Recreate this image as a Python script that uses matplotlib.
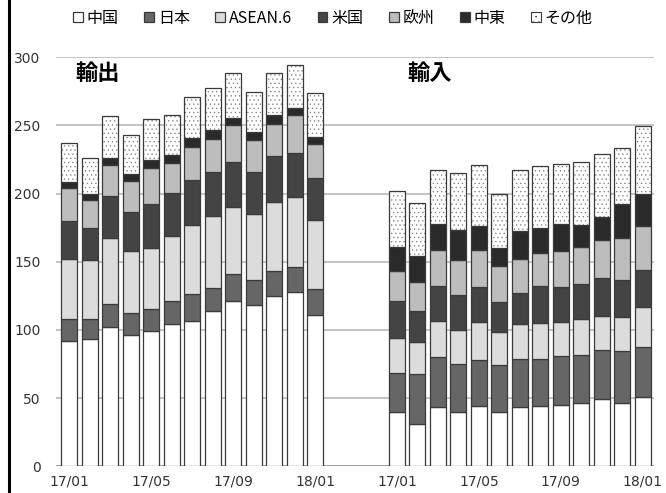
import numpy as np
import matplotlib
matplotlib.use('Agg')
import matplotlib.pyplot as plt
from matplotlib.lines import Line2D
from matplotlib.patches import Patch

plt.rcParams['font.family'] = ['Noto Sans CJK JP', 'DejaVu Sans']
plt.rcParams['hatch.linewidth'] = 0.4

regions = ['中国', '日本', 'ASEAN.6', '米国', '欧州', '中東', 'その他']
months = ['17/01', '17/02', '17/03', '17/04', '17/05', '17/06', '17/07',
          '17/08', '17/09', '17/10', '17/11', '17/12', '18/01']

# 輸出 (地域別, 月次)
exports = {
    '中国':    [92.0, 93.3, 102.0, 96.0, 99.4, 104.3, 106.7, 113.6, 120.9, 118.5, 124.8, 128.0, 110.9],
    '日本':    [16.0, 14.4, 17.4, 16.6, 15.9, 16.9, 19.6, 17.3, 20.3, 18.1, 18.4, 18.3, 19.3],
    'ASEAN.6': [43.7, 43.5, 48.4, 45.0, 45.0, 47.4, 50.6, 52.6, 49.1, 48.4, 50.8, 50.9, 50.1],
    '米国':    [28.3, 23.5, 30.1, 28.8, 32.2, 31.5, 32.7, 32.3, 33.0, 30.8, 33.5, 32.8, 31.3],
    '欧州':    [23.8, 20.5, 23.0, 22.5, 26.0, 22.5, 24.4, 24.4, 27.2, 23.7, 23.7, 27.3, 24.5],
    '中東':    [4.9, 4.2, 5.1, 5.4, 6.3, 5.4, 6.4, 6.4, 5.1, 5.5, 6.6, 5.7, 5.6],
    'その他':  [28.4, 26.9, 31.1, 28.3, 30.1, 29.6, 30.4, 31.0, 32.8, 29.7, 30.6, 31.5, 31.8],
}

# 輸入 (地域別, 月次)
imports = {
    '中国':    [39.7, 30.9, 43.4, 39.7, 44.6, 39.7, 43.4, 44.4, 45.3, 46.1, 49.5, 46.6, 50.8],
    '日本':    [28.9, 36.9, 36.9, 35.3, 33.5, 34.5, 35.5, 34.5, 35.7, 35.7, 35.7, 37.9, 36.9],
    'ASEAN.6': [25.2, 23.3, 26.4, 24.9, 27.4, 24.5, 25.4, 26.1, 25.2, 26.4, 25.2, 25.2, 28.8],
    '米国':    [27.6, 23.0, 25.7, 25.4, 25.7, 22.0, 22.5, 27.4, 25.0, 25.4, 27.6, 27.3, 27.4],
    '欧州':    [21.5, 21.2, 26.4, 25.9, 27.1, 25.9, 25.2, 24.4, 26.4, 27.2, 27.9, 30.8, 32.7],
    '中東':    [18.1, 19.1, 18.9, 22.3, 18.1, 13.2, 20.7, 18.2, 20.1, 16.1, 17.1, 24.7, 23.4],
    'その他':  [41.1, 38.4, 39.6, 41.5, 44.2, 40.1, 44.8, 44.9, 44.2, 46.3, 46.0, 40.9, 49.8],
}

colors = ['white', '#666666', '#dcdcdc', '#444444', '#bdbdbd', '#2a2a2a', 'white']

fig = plt.figure(figsize=(6.66, 4.93), dpi=100)
ax = fig.add_axes([0.084, 0.054, 0.898, 0.830])

x_exp = np.arange(len(months))
x_imp = np.arange(len(months)) + len(months) + 3
width = 0.78

handles = []
for xs, data in [(x_exp, exports), (x_imp, imports)]:
    bottom = np.zeros(len(months))
    for i, r in enumerate(regions):
        vals = np.array(data[r])
        if r == 'その他':
            # 点描は薄いグレーで、枠線は別に重ねる
            ax.bar(xs, vals, width, bottom=bottom, color='white',
                   edgecolor='#7a7a7a', linewidth=0, hatch='....', zorder=3)
            b = ax.bar(xs, vals, width, bottom=bottom, fill=False,
                       edgecolor='#3a3a3a', linewidth=0.9, zorder=4, label=r)
        else:
            b = ax.bar(xs, vals, width, bottom=bottom, color=colors[i],
                       edgecolor='#3a3a3a', linewidth=0.9, zorder=3, label=r)
        if xs is x_exp:
            handles.append(b)
        bottom += vals

# 凡例用の「その他」は点描付き
handles[-1] = Patch(facecolor='white', edgecolor='#3a3a3a', hatch='...',
                    linewidth=0.8)

ax.set_xlim(-0.65, x_imp[-1] + 0.55)
ax.set_ylim(0, 300)
ax.set_yticks(np.arange(0, 301, 50))
ax.grid(axis='y', color='#bfbfbf', linewidth=1.3, zorder=0)
ax.axhline(0, color='#9a9a9a', linewidth=1.2, zorder=2)
for s in ax.spines.values():
    s.set_visible(False)

tick_pos = list(x_exp[::4]) + list(x_imp[::4])
tick_lab = [months[i] for i in range(0, 13, 4)] * 2
ax.set_xticks(tick_pos)
ax.set_xticklabels(tick_lab, family='DejaVu Sans')
ax.tick_params(axis='x', length=0, pad=6, labelsize=10, labelcolor='#333333')
ax.tick_params(axis='y', length=0, pad=11, labelsize=10, labelcolor='#333333')
for t in ax.get_yticklabels():
    t.set_family('DejaVu Sans')

ax.text(1.4, 288, '輸出', fontsize=16, fontweight='bold', ha='center', va='center')
ax.text(17.6, 288, '輸入', fontsize=16, fontweight='bold', ha='center', va='center')

fig.legend(handles=handles, labels=regions, loc='center', ncol=7,
           bbox_to_anchor=(0.5, 0.963), frameon=False, fontsize=11.5,
           handlelength=0.6, handleheight=0.6, handletextpad=0.25,
           columnspacing=1.6)

fig.add_artist(Line2D([8.5 / 666, 8.5 / 666], [0, 1], color='black',
                      linewidth=2.2, transform=fig.transFigure))

fig.savefig('out.png', dpi=100)
